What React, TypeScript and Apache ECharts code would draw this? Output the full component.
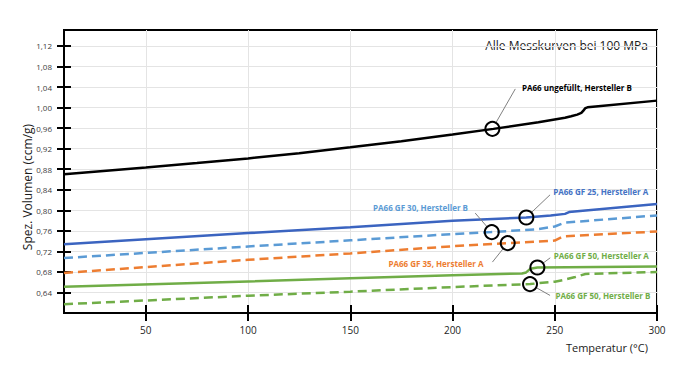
import React, { useEffect, useRef } from "react";
import * as echarts from "echarts";

// ---- data (temperature °C, specific volume ccm/g) ----
const xTicks = [50, 100, 150, 200, 250, 300];
const yTicks = [0.64, 0.68, 0.72, 0.76, 0.8, 0.84, 0.88, 0.92, 0.96, 1.0, 1.04, 1.08, 1.12];

const pa66UnfilledB = [
  [10, 0.870], [50, 0.8835], [75, 0.892], [100, 0.901], [125, 0.911], [150, 0.9225],
  [175, 0.9345], [200, 0.9475], [220, 0.9585], [242, 0.9715], [255, 0.980], [258, 0.983],
  [261, 0.9862], [263, 0.9895], [264, 0.994], [265, 0.999], [266, 1.0005], [270, 1.002],
  [300, 1.0135],
];
const gf25A = [
  [10, 0.734], [100, 0.7556], [150, 0.767], [200, 0.7795], [236, 0.7859], [248, 0.790],
  [255, 0.793], [257, 0.7965], [300, 0.812],
];
const gf30B = [
  [10, 0.707], [100, 0.7295], [150, 0.7415], [200, 0.7536], [219, 0.7575], [242, 0.7633],
  [250, 0.7685], [255, 0.776], [300, 0.790],
];
const gf35A = [
  [10, 0.678], [100, 0.7036], [150, 0.716], [200, 0.730], [227, 0.7361], [242, 0.739],
  [250, 0.741], [254, 0.749], [300, 0.7587],
];
const gf50A = [
  [10, 0.651], [100, 0.6614], [150, 0.6675], [200, 0.6735], [234, 0.677], [236, 0.679],
  [238, 0.686], [241.5, 0.6886], [300, 0.6906],
];
const gf50B = [
  [10, 0.617], [100, 0.6336], [150, 0.6415], [200, 0.6505], [238, 0.6563], [242, 0.658],
  [250, 0.661], [255, 0.665], [260, 0.670], [265, 0.676], [300, 0.6797],
];

const seriesNames = [
  "PA66 ungefüllt, Hersteller B",
  "PA66 GF 25, Hersteller A",
  "PA66 GF 30, Hersteller B",
  "PA66 GF 35, Hersteller A",
  "PA66 GF 50, Hersteller A",
  "PA66 GF 50, Hersteller B",
];
const seriesData = [pa66UnfilledB, gf25A, gf30B, gf35A, gf50A, gf50B];

// annotation anchors in data space: circle, leader start/end, label anchor
const circlePoints = [[219.5, 0.9585], [236.1, 0.7859], [219.2, 0.7575], [227.0, 0.7361], [241.5, 0.6886], [237.9, 0.6563]];
const leaderStarts = [[221.2, 0.9703], [238.5, 0.7953], [216.9, 0.7678], [224.8, 0.7254], [244.2, 0.6968], [240.9, 0.6495]];
const leaderEnds = [[230.7, 1.0363], [247.7, 0.8301], [211.1, 0.7945], [219.5, 0.6991], [247.8, 0.7075], [247.7, 0.6342]];
const labelAnchors = [[233.7, 1.0383], [249.0, 0.8365], [207.8, 0.8061], [215.4, 0.6972], [249.3, 0.712], [250.1, 0.6336]];
const labelSides = ["right", "right", "left", "left", "right", "right"];

// ---- styles ----
const FONT = "'Open Sans', 'Noto Sans', sans-serif";
const lineColors = ["#000000", "#3b64c0", "#5b9bd5", "#ed7d31", "#70ad47", "#70ad47"];
const labelColors = ["#000000", "#4472c4", "#5b9bd5", "#ed7d31", "#70ad47", "#70ad47"];
const dashed = [false, false, true, true, false, true];

export default function App() {
  const ref = useRef<HTMLDivElement>(null);
  useEffect(() => {
    if (!ref.current) return;
    const chart = echarts.init(ref.current, null, { renderer: "svg" });
    const fmt = (v: number) => v.toFixed(2).replace(".", ",");
    const axisLineStyle = { color: "#000", width: 2 };

    const series = seriesData.map((d, i) => ({
      name: seriesNames[i],
      type: "line",
      data: d,
      symbol: "none",
      smooth: false,
      z: 2,
      lineStyle: {
        color: lineColors[i],
        width: 2.5,
        type: dashed[i] ? [9, 5] : "solid",
      },
      markLine: {
        silent: true,
        symbol: ["none", "none"],
        label: { show: false },
        lineStyle: { color: "#808080", width: 1, type: "solid" },
        data: [[{ coord: leaderStarts[i] }, { coord: leaderEnds[i] }]],
      },
      markPoint: {
        silent: true,
        data: [
          {
            coord: circlePoints[i],
            symbol: "circle",
            symbolSize: 14,
            itemStyle: { color: "rgba(255,255,255,0)", borderColor: "#000", borderWidth: 2 },
            label: { show: false },
          },
          {
            coord: labelAnchors[i],
            symbol: "circle",
            symbolSize: 1,
            itemStyle: { color: "rgba(0,0,0,0)" },
            label: {
              show: true,
              position: labelSides[i],
              distance: 0,
              formatter: seriesNames[i],
              color: labelColors[i],
              fontFamily: FONT,
              fontWeight: "bold",
              fontSize: 8,
            },
          },
        ],
      },
    }));

    chart.setOption({
      animation: false,
      grid: {
        left: 64,
        right: 43,
        top: 30,
        bottom: 55,
        show: true,
        borderColor: "#000",
        borderWidth: 2,
        backgroundColor: "rgba(0,0,0,0)",
      },
      xAxis: [
        {
          type: "value",
          min: 10,
          max: 300,
          position: "bottom",
          axisLine: { show: true, onZero: false, lineStyle: axisLineStyle },
          axisTick: { show: true, length: 8, customValues: xTicks, lineStyle: axisLineStyle },
          axisLabel: { customValues: xTicks, color: "#262626", fontSize: 10, margin: 12, fontFamily: FONT },
          splitLine: { show: true, lineStyle: { color: "#e4e4e4", width: 1 } },
        },
        {
          type: "value",
          min: 10,
          max: 300,
          position: "bottom",
          axisLine: { show: false },
          axisTick: { show: true, inside: true, length: 8, customValues: xTicks, lineStyle: axisLineStyle },
          axisLabel: { show: false },
          splitLine: { show: false },
        },
      ],
      yAxis: [
        {
          type: "value",
          min: 0.6,
          max: 1.151,
          position: "left",
          axisLine: { show: true, onZero: false, lineStyle: axisLineStyle },
          axisTick: { show: true, length: 7, customValues: yTicks, lineStyle: axisLineStyle },
          axisLabel: {
            customValues: yTicks,
            formatter: (v: number) => fmt(v),
            color: "#404040",
            fontSize: 8,
            margin: 12,
            fontFamily: FONT,
          },
          splitLine: { show: true, lineStyle: { color: "#e4e4e4", width: 1 } },
        },
        {
          type: "value",
          min: 0.6,
          max: 1.151,
          position: "left",
          axisLine: { show: false },
          axisTick: { show: true, inside: true, length: 7, customValues: yTicks, lineStyle: axisLineStyle },
          axisLabel: { show: false },
          splitLine: { show: false },
        },
      ],
      series,
      graphic: [
        {
          type: "text",
          right: 52,
          top: 39,
          style: { text: "Alle Messkurven bei 100 MPa", font: `12px ${FONT}`, fill: "#1a1a1a" },
        },
        {
          type: "text",
          right: 52,
          top: 342,
          style: { text: "Temperatur (°C)", font: `11px ${FONT}`, fill: "#1a1a1a" },
        },
        {
          type: "text",
          x: 27,
          y: 187,
          rotation: Math.PI / 2,
          style: {
            text: "Spez. Volumen (ccm/g)",
            font: `12px ${FONT}`,
            fill: "#1a1a1a",
            textAlign: "center",
            textVerticalAlign: "middle",
          },
        },
      ],
    });
    return () => chart.dispose();
  }, []);
  return (
    <div
      ref={ref}
      style={{ position: "absolute", left: 0, top: 0, width: 700, height: 368, background: "#fff" }}
    />
  );
}
